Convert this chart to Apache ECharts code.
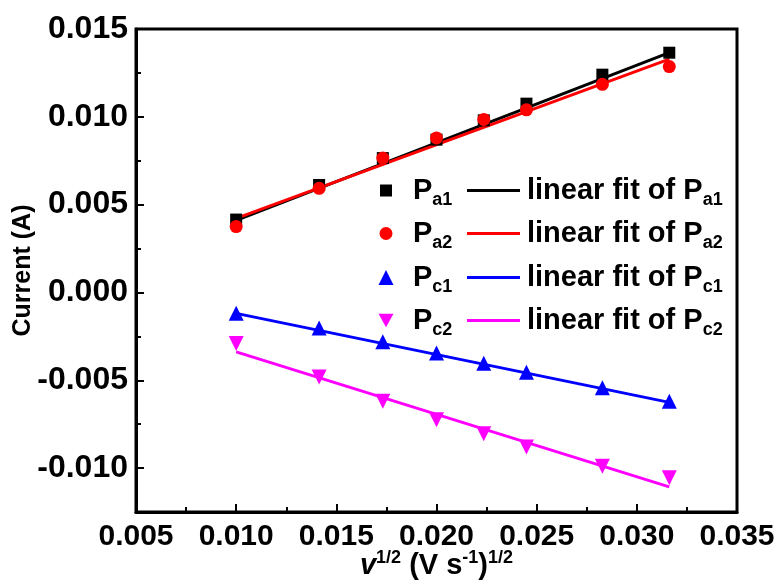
<!DOCTYPE html>
<html>
<head>
<meta charset="utf-8">
<script src="https://cdn.jsdelivr.net/npm/echarts@6/dist/echarts.min.js"></script>
<style>
html,body{margin:0;padding:0;background:#fff;}
#chart{width:777px;height:584px;}
</style>
</head>
<body>
<div id="chart"></div>
<script>
// ---- data ----
const xValues = [0.0100, 0.01414, 0.01732, 0.0200, 0.02236, 0.02449, 0.02828, 0.03162];
const pa1 = [0.00415, 0.00612, 0.00765, 0.00870, 0.00980, 0.01075, 0.01240, 0.01365];
const pa2 = [0.00375, 0.00593, 0.00765, 0.00880, 0.00985, 0.01040, 0.01185, 0.01286];
const pc1 = [-0.00118, -0.00202, -0.00280, -0.00345, -0.00403, -0.00455, -0.00542, -0.00620];
const pc2 = [-0.00290, -0.00482, -0.00619, -0.00725, -0.00805, -0.00880, -0.00990, -0.01055];
const fitX = [0.0100, 0.03162];
const fitPa1 = [0.00410, 0.01365];
const fitPa2 = [0.00422, 0.01329];
const fitPc1 = [-0.00119, -0.00626];
const fitPc2 = [-0.00338, -0.01107];
const xTicks = [0.005, 0.010, 0.015, 0.020, 0.025, 0.030, 0.035];
const yTicks = [-0.010, -0.005, 0.000, 0.005, 0.010, 0.015];
const yMinorTicks = [-0.0125, -0.0075, -0.0025, 0.0025, 0.0075, 0.0125];
const seriesNames = ['Pa1', 'Pa2', 'Pc1', 'Pc2'];
const seriesColors = ['#000000', '#ff0000', '#0000ff', '#ff00ff'];
const seriesSymbols = ['rect', 'circle', 'triangle', 'path://M0,0L20,0L10,18Z'];
const seriesSymbolSizes = [12, 13, 15, 15];
const legendRowsY = [190, 233, 277, 320];

const FONT = 'Liberation Sans';
const pts = ys => xValues.map((x, i) => [x, ys[i]]);
const fitPts = ys => fitX.map((x, i) => [x, ys[i]]);
const allValues = [pa1, pa2, pc1, pc2];
const allFits = [fitPa1, fitPa2, fitPc1, fitPc2];

const series = [];
seriesNames.forEach((n, i) => {
  series.push({
    name: n, type: 'scatter', data: pts(allValues[i]),
    symbol: seriesSymbols[i], symbolSize: seriesSymbolSizes[i],
    itemStyle: {color: seriesColors[i], opacity: 1}, z: 3
  });
});
seriesNames.forEach((n, i) => {
  series.push({
    name: 'fit ' + n, type: 'line', data: fitPts(allFits[i]),
    symbol: 'none', lineStyle: {color: seriesColors[i], width: 3},
    itemStyle: {color: seriesColors[i]}, z: 2
  });
});

const makeRich = gap => ({
  g: {width: gap, fontSize: 10},
  b: {fontSize: 29, fontWeight: 'bold', fontFamily: FONT, color: '#000'},
  s: {fontSize: 18, fontWeight: 'bold', fontFamily: FONT, color: '#000', padding: [20, 0, 0, 0]}
});
const legendFormatter = name => {
  const base = name.replace('fit ', '');
  const sub = base.slice(1);
  return name.startsWith('fit ') ? '{g| }{b|linear fit of P}{s|' + sub + '}' : '{g| }{b|P}{s|' + sub + '}';
};
const legends = [];
seriesNames.forEach((n, i) => {
  const sz = seriesSymbolSizes[i];
  legends.push({
    orient: 'horizontal', left: 381 - sz / 2, top: legendRowsY[i] - 19,
    data: [n], itemWidth: sz, itemHeight: sz,
    selectedMode: false, formatter: legendFormatter,
    textStyle: {rich: makeRich(413 - (381 + sz / 2) - 10), fontFamily: FONT, fontWeight: 'bold'}
  });
  legends.push({
    orient: 'horizontal', left: 462, top: legendRowsY[i] - 19,
    data: [{name: 'fit ' + n, icon: 'rect'}], itemWidth: 53, itemHeight: 3,
    selectedMode: false, formatter: legendFormatter,
    textStyle: {rich: makeRich(2), fontFamily: FONT, fontWeight: 'bold'}
  });
});

const chart = echarts.init(document.getElementById('chart'));
chart.setOption({
  animation: false,
  backgroundColor: '#fff',
  grid: {left: 136, right: 40, top: 29, bottom: 72, show: true, borderColor: '#000', borderWidth: 3,
         containLabel: false, outerBoundsMode: 'none'},
  legend: legends,
  xAxis: {
    type: 'value', min: xTicks[0], max: xTicks[xTicks.length - 1], interval: 0.005,
    axisLine: {onZero: false, lineStyle: {color: '#000', width: 3}},
    axisTick: {inside: true, length: 8, lineStyle: {width: 2, color: '#000'}},
    minorTick: {show: true, splitNumber: 2, length: 5, lineStyle: {width: 2, color: '#000'}},
    splitLine: {show: false},
    axisLabel: {formatter: v => v.toFixed(3), fontSize: 30, fontWeight: 'bold', fontFamily: FONT, color: '#000', margin: 10},
    name: '{vi|v}{sup|1/2}{n| (V s}{sup|-1}{n|)}{sup|1/2}',
    nameLocation: 'middle', nameGap: 37, nameMoveOverlap: false,
    nameTextStyle: {
      rich: {
        vi: {fontSize: 29, fontWeight: 'bold', fontStyle: 'italic', fontFamily: FONT, color: '#000'},
        n: {fontSize: 29, fontWeight: 'bold', fontFamily: FONT, color: '#000'},
        sup: {fontSize: 18, fontWeight: 'bold', fontFamily: FONT, color: '#000', padding: [0, 0, 16, 0]}
      }
    }
  },
  yAxis: [{
    type: 'value', min: yMinorTicks[0], max: yTicks[yTicks.length - 1], interval: 0.0025,
    axisLine: {onZero: false, lineStyle: {color: '#000', width: 3}},
    axisTick: {inside: true, length: 8, customValues: yTicks, lineStyle: {width: 2, color: '#000'}},
    splitLine: {show: false},
    axisLabel: {customValues: yTicks, formatter: v => v.toFixed(3), fontSize: 32, fontWeight: 'bold', fontFamily: FONT, color: '#000', margin: 8},
    name: 'Current (A)', nameLocation: 'middle', nameGap: 100, nameMoveOverlap: false,
    nameTextStyle: {fontSize: 25, fontWeight: 'bold', fontFamily: FONT, color: '#000'}
  }, {
    type: 'value', min: yMinorTicks[0], max: yTicks[yTicks.length - 1], interval: 0.0025, position: 'left',
    axisLine: {show: false, onZero: false}, splitLine: {show: false},
    axisTick: {inside: true, length: 5, customValues: yMinorTicks, lineStyle: {width: 2, color: '#000'}},
    axisLabel: {show: false}
  }],
  series: series
});
</script>
</body>
</html>
